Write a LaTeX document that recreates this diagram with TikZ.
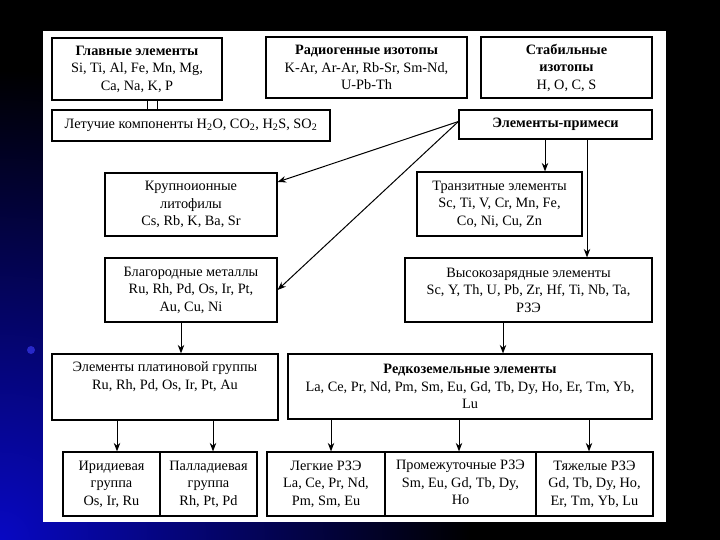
\documentclass[tikz,border=0pt]{standalone}
\usepackage{fontspec}
\setmainfont{Liberation Serif}
\usetikzlibrary{arrows.meta}
\definecolor{bgblue}{RGB}{8,8,195}
\definecolor{dotblue}{RGB}{40,40,200}
\begin{document}
\begin{tikzpicture}[x=1pt,y=-1pt,
  box/.style={draw, line width=1.2pt, align=center, inner sep=0pt, font=\fontsize{14.3}{17.5}\selectfont},
  arr/.style={-{Stealth[length=8.5pt,width=6.5pt]}, line width=1pt},
  ln/.style={line width=1pt}]
\useasboundingbox (0,0) rectangle (720,540);
\fill[black] (0,0) rectangle (720,540);
\begin{scope}
\clip (0,0) rectangle (720,540);
\shade[inner color=bgblue, outer color=black] (0,540) circle (470);
\end{scope}
\fill[dotblue] (31,350) circle (4);
\fill[white] (43,31) rectangle (666,522);

\node[box, minimum width=170, minimum height=62] (glav) at (137,69)
  {\textbf{Главные элементы}\\Si, Ti, Al, Fe, Mn, Mg,\\Ca, Na, K, P};
\node[box, minimum width=201, minimum height=61] (rad) at (366.5,67.5)
  {\textbf{Радиогенные изотопы}\\K-Ar, Ar-Ar, Rb-Sr, Sm-Nd,\\U-Pb-Th};
\node[box, minimum width=171, minimum height=61] (stab) at (566.5,67.5)
  {\textbf{Стабильные}\\\textbf{изотопы}\\H, O, C, S};
\node[box, minimum width=278, minimum height=31] (let) at (191,125.5)
  {Летучие компоненты H\textsubscript{2}O, CO\textsubscript{2}, H\textsubscript{2}S, SO\textsubscript{2}};
\node[box, minimum width=193, minimum height=29] (prim) at (555.5,124.5)
  {\textbf{Элементы-примеси}};
\node[box, minimum width=172, minimum height=63] (krup) at (191,204.5)
  {Крупноионные\\литофилы\\Cs, Rb, K, Ba, Sr};
\node[box, minimum width=165, minimum height=64] (tranz) at (499.5,204)
  {Транзитные элементы\\Sc, Ti, V, Cr, Mn, Fe,\\Co, Ni, Cu, Zn};
\node[box, minimum width=172, minimum height=64] (blag) at (191,290)
  {Благородные металлы\\Ru, Rh, Pd, Os, Ir, Pt,\\Au, Cu, Ni};
\node[box, minimum width=247, minimum height=64] (vys) at (528.5,290)
  {Высокозарядные элементы\\Sc, Y, Th, U, Pb, Zr, Hf, Ti, Nb, Ta,\\РЗЭ};
\node[box, minimum width=226, minimum height=66] (plat) at (165,387)
  {Элементы платиновой группы\\Ru, Rh, Pd, Os, Ir, Pt, Au\\\strut};
\node[box, minimum width=364, minimum height=65] (rzee) at (470,386.5)
  {\textbf{Редкоземельные элементы}\\La, Ce, Pr, Nd, Pm, Sm, Eu, Gd, Tb, Dy, Ho, Er, Tm, Yb,\\Lu};
\node[box, minimum width=97, minimum height=64] (irid) at (111.5,484)
  {Иридиевая\\группа\\Os, Ir, Ru};
\node[box, minimum width=97, minimum height=64] (pall) at (208.5,484)
  {Палладиевая\\группа\\Rh, Pt, Pd};
\node[box, minimum width=118, minimum height=64] (legk) at (326,484)
  {Легкие РЗЭ\\La, Ce, Pr, Nd,\\Pm, Sm, Eu};
\node[box, minimum width=151, minimum height=64] (prom) at (460.5,484)
  {Промежуточные РЗЭ\\Sm, Eu, Gd, Tb, Dy,\\Ho\vphantom{y}};
\node[box, minimum width=117, minimum height=64] (tyazh) at (594.5,484)
  {Тяжелые РЗЭ\\Gd, Tb, Dy, Ho,\\Er, Tm, Yb, Lu};

% double link Главные - Летучие
\draw[ln] (glav.south -| 147,0) -- (let.north -| 147,0);
\draw[ln] (glav.south -| 157,0) -- (let.north -| 157,0);

% from Элементы-примеси
\draw[arr] ([yshift=3pt]prim.west) -- (krup.east |- 0,182);
\draw[arr] ([yshift=3pt]prim.west) -- (blag.east);
\draw[arr] (prim.south -| 545,0) -- (tranz.north -| 545,0);
\draw[arr] (prim.south -| 587,0) -- (vys.north -| 587,0);

\draw[arr] (blag.south -| 181,0) -- (plat.north -| 181,0);
\draw[arr] (vys.south -| 503,0) -- (rzee.north -| 503,0);

\draw[arr] (plat.south -| 117,0) -- (irid.north -| 117,0);
\draw[arr] (plat.south -| 213,0) -- (pall.north -| 213,0);
\draw[arr] (rzee.south -| 331,0) -- (legk.north -| 331,0);
\draw[arr] (rzee.south -| 459,0) -- (prom.north -| 459,0);
\draw[arr] (rzee.south -| 589,0) -- (tyazh.north -| 589,0);
\end{tikzpicture}
\end{document}
